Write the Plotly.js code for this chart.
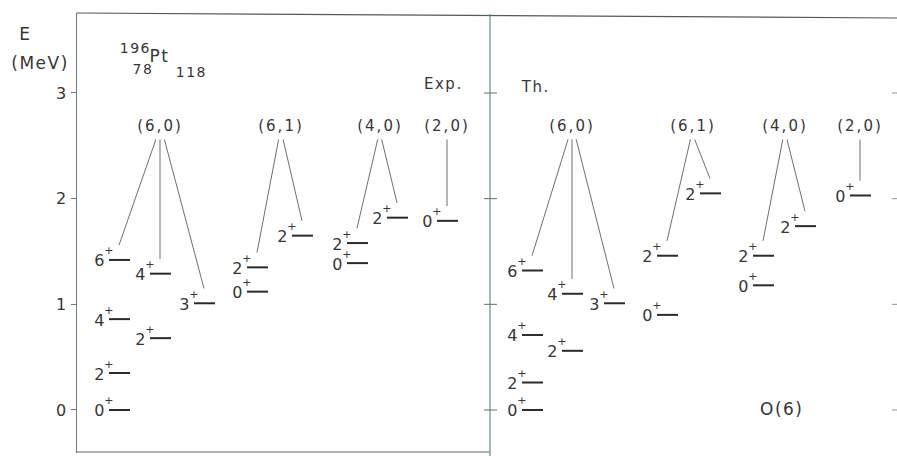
<!DOCTYPE html>
<html>
<head>
<meta charset="utf-8">
<script src="https://cdn.plot.ly/plotly-3.0.1.min.js"></script>
<style>
  html, body { margin: 0; padding: 0; background: #fff; }
  #chart { width: 897px; height: 456px; }
  /* wide hand-lettering look */
  .main-svg text { letter-spacing: 1.5px; }
  .main-svg .textpoint text { letter-spacing: 2px; }
</style>
</head>
<body>
<div id="chart"></div>
<script>
// 196Pt level scheme: experiment (left) vs. O(6) limit (right)
const groupLabels = ['(6,0)', '(6,1)', '(4,0)', '(2,0)'];
const levelSpin   = ['0', '2', '4', '6', '2', '4', '3', '0', '2', '2', '0', '2', '2', '0'];
const levelParity = ['+', '+', '+', '+', '+', '+', '+', '+', '+', '+', '+', '+', '+', '+'];
const levelGroup  = [0, 0, 0, 0, 0, 0, 0, 1, 1, 1, 2, 2, 2, 3];
const levelColumn = [0, 0, 0, 0, 1, 1, 2, 0, 0, 1, 0, 0, 1, 0];
const expEnergy   = [0.00, 0.35, 0.86, 1.42, 0.68, 1.29, 1.01, 1.12, 1.35, 1.65, 1.39, 1.58, 1.82, 1.79];
const thEnergy    = [0.00, 0.26, 0.71, 1.32, 0.56, 1.10, 1.01, 0.90, 1.46, 2.05, 1.18, 1.46, 1.74, 2.03];
const energyTicks = [0, 1, 2, 3];

// ---- layout geometry (x axis runs in screen pixels, y axis in MeV) ----
const W = 897, H = 456;
const M = { l: 77, r: 0, t: 13, b: 3 };
const plotH = H - M.t - M.b;
const Y_RANGE = [-0.407, 3.757];
const DIVIDER_X = 490;
const LINE_LEN = 21;
const END_DX = 10;        // where a connector meets a level, from the level start
const END_GAP = 0.14;     // connectors stop this far above the level (MeV)
const APEX_E = 2.56;      // connectors start just below the group label
const LABEL_E = 2.68;

const panels = [
  { energy: expEnergy, groupX: [160, 281, 380, 447],
    colX: [[109, 150, 194], [247, 292], [347, 387], [437]] },
  { energy: thEnergy, groupX: [572, 693, 785, 860],
    colX: [[522, 562, 604], [657, 700], [753, 795], [850]] }
];

const ink = '#363636';
const font = 'DejaVu Sans, Liberation Sans, sans-serif';
const px2x = px => (px - M.l) / (W - M.l - M.r);
const py2y = py => (H - M.b - py) / plotH;

const traces = [];
const levelNotes = [];
panels.forEach(p => {
  const lx = [], ly = [], cx = [], cy = [];
  // the highest level of each sub-column is tied to its group label
  const top = {};
  p.energy.forEach((e, i) => {
    const key = levelGroup[i] + '-' + levelColumn[i];
    if (!(key in top) || e > p.energy[top[key]]) top[key] = i;
  });
  p.energy.forEach((e, i) => {
    const x0 = p.colX[levelGroup[i]][levelColumn[i]];
    lx.push(x0, x0 + LINE_LEN, null); ly.push(e, e, null);
    // spin to the left of the level, parity raised just before the line
    levelNotes.push({ text: levelSpin[i], xref: 'x', yref: 'y', x: x0, y: e,
      xanchor: 'right', yanchor: 'middle', xshift: -4.5, yshift: -1, showarrow: false,
      borderpad: 0, borderwidth: 0,
      font: { family: font, size: 16, color: ink } });
    levelNotes.push({ text: levelParity[i], xref: 'x', yref: 'y', x: x0, y: e,
      xanchor: 'left', yanchor: 'middle', xshift: -4.3, yshift: 9, showarrow: false,
      borderpad: 0, borderwidth: 0,
      font: { family: font, size: 11, color: ink } });
  });
  Object.values(top).forEach(i => {
    const gx = p.groupX[levelGroup[i]];
    const ex = p.colX[levelGroup[i]][levelColumn[i]] + END_DX;
    cx.push(gx + (ex - gx) * 0.1, ex, null);
    cy.push(APEX_E, p.energy[i] + END_GAP, null);
  });
  traces.push({ x: lx, y: ly, mode: 'lines', line: { color: '#2b2b2b', width: 2 }, hoverinfo: 'skip' });
  traces.push({ x: cx, y: cy, mode: 'lines', line: { color: '#6f6f6f', width: 1 }, hoverinfo: 'skip' });
  traces.push({ x: p.groupX, y: p.groupX.map(() => LABEL_E), text: groupLabels, mode: 'text',
                textposition: 'middle center', textfont: { family: font, size: 15, color: ink }, hoverinfo: 'skip' });
});

const ann = (text, px, py, size) => ({
  text, xref: 'paper', yref: 'paper', x: px2x(px), y: py2y(py),
  xanchor: 'center', yanchor: 'middle', showarrow: false,
  font: { family: font, size, color: ink }
});

const shapes = [
  // frame top, bottom (left panel) and the panel divider
  { type: 'line', xref: 'x', yref: 'paper', x0: M.l, x1: W, y0: py2y(13), y1: py2y(18),
    line: { color: '#4f5a63', width: 1.2 } },
  { type: 'line', xref: 'x', yref: 'paper', x0: M.l, x1: DIVIDER_X, y0: py2y(452), y1: py2y(452),
    line: { color: '#5d6a70', width: 1.2 } },
  { type: 'line', xref: 'x', yref: 'paper', x0: DIVIDER_X, x1: DIVIDER_X, y0: py2y(14), y1: py2y(456),
    line: { color: '#5f8f86', width: 1.2 } }
];
energyTicks.forEach(e => {
  shapes.push({ type: 'line', xref: 'x', yref: 'y', x0: DIVIDER_X - 6, x1: DIVIDER_X + 7, y0: e, y1: e,
                line: { color: '#5f6f70', width: 1 } });
  shapes.push({ type: 'line', xref: 'x', yref: 'y', x0: W - 5, x1: W, y0: e, y1: e,
                line: { color: '#8a9598', width: 1 } });
});

const layout = {
  width: W, height: H, margin: M, showlegend: false, hovermode: false,
  paper_bgcolor: '#fff', plot_bgcolor: '#fff',
  xaxis: { range: [M.l, W - M.r], visible: false, fixedrange: true },
  yaxis: { range: Y_RANGE, tickvals: energyTicks, ticktext: energyTicks.map(String),
           ticks: 'outside', ticklen: 5, tickcolor: '#6b7a80', showline: true,
           linecolor: '#6b7a80', linewidth: 1.2, showgrid: false, zeroline: false,
           tickfont: { family: font, size: 16, color: ink }, fixedrange: true },
  shapes,
  annotations: [
    ann('E', 25, 34, 17),
    ann('(MeV)', 40, 63, 17),
    ann('196', 135, 48, 14),
    ann('Pt', 159, 56, 17),
    ann('78', 143, 69, 14),
    ann('118', 191, 72, 14),
    ann('Exp.', 443, 84, 15),
    ann('Th.', 535, 87, 15),
    ann('O(6)', 781, 409, 17)
  ].concat(levelNotes)
};

Plotly.newPlot('chart', traces, layout, { displayModeBar: false, staticPlot: true });
</script>
</body>
</html>
